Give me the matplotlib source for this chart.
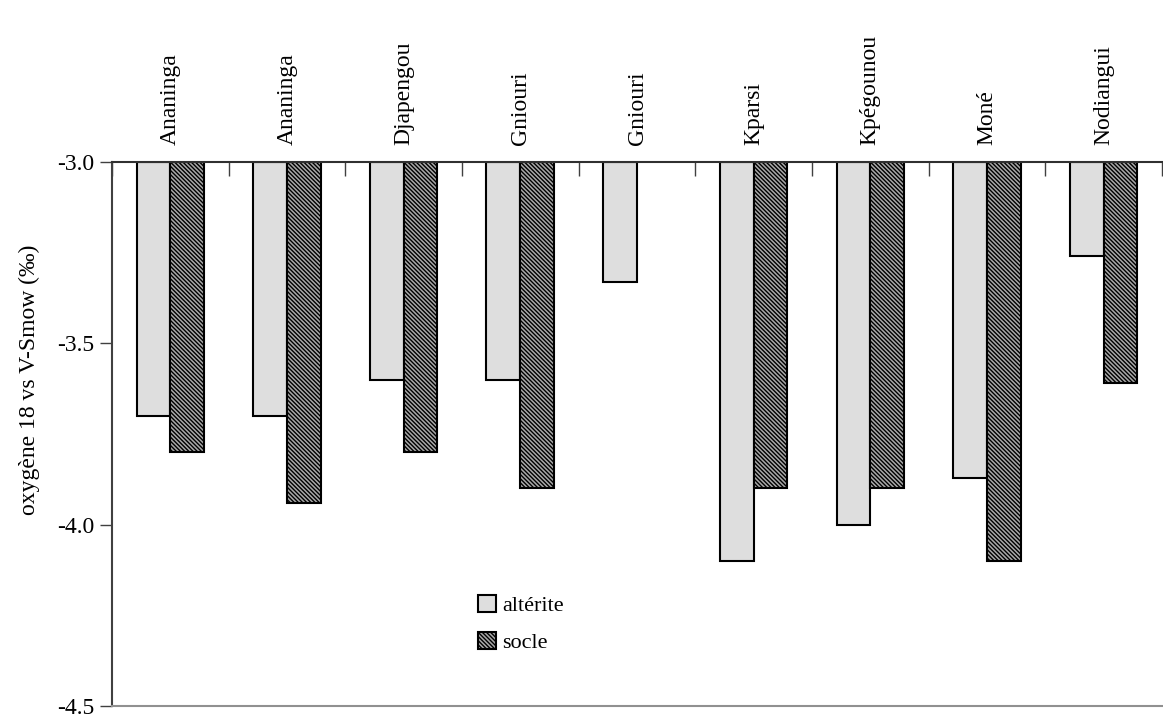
import numpy as np
import matplotlib
matplotlib.use('Agg')
import matplotlib.pyplot as plt

plt.rcParams['font.family'] = ['Liberation Serif', 'DejaVu Serif']
plt.rcParams['axes.unicode_minus'] = False
plt.rcParams['hatch.linewidth'] = 1.0
plt.rcParams['hatch.color'] = '#202020'

sites = ['Ananinga', 'Ananinga', 'Djapengou', 'Gniouri', 'Gniouri',
         'Kparsi', 'Kpégounou', 'Moné', 'Nodiangui']
alterite = [-3.70, -3.70, -3.60, -3.60, -3.33, -4.10, -4.00, -3.87, -3.26]
socle = [-3.80, -3.94, -3.80, -3.90, np.nan, -3.90, -3.90, -4.10, -3.61]
y_ticks = [-3.0, -3.5, -4.0, -4.5]

base = -3.0
x = np.arange(len(sites))
w = 0.29

fig = plt.figure(figsize=(11.63, 7.19), dpi=100)
ax = fig.add_axes([112 / 1163, 1 - 706 / 719, 1050 / 1163, (706 - 162) / 719])

alt_vals = np.array(alterite) - base
soc_vals = np.array(socle) - base
ax.bar(x - w / 2, alt_vals, w, bottom=base, facecolor='#dedede', edgecolor='black',
       linewidth=1.5, label='altérite')
ax.bar(x + w / 2, soc_vals, w, bottom=base, facecolor='#a8a8a8', edgecolor='black',
       linewidth=1.5, hatch='\\\\\\\\\\\\\\\\', label='socle')

ax.set_xlim(-0.5, len(sites) - 0.5)
ax.set_ylim(-4.5, -3.0)
ax.set_yticks(y_ticks)
ax.set_yticklabels(['%.1f' % v for v in y_ticks], fontsize=17)
ax.tick_params(axis='y', direction='out', length=9, width=1, colors='#404040', labelcolor='black', pad=4)
ax.set_ylabel('oxygène 18 vs V-Smow (‰)', fontsize=17)
ax.yaxis.set_label_coords(-0.069, 0.6)

ax.xaxis.tick_top()
ax.set_xticks(np.arange(len(sites) + 1) - 0.5)
ax.set_xticklabels([])
ax.set_xticks(x, minor=True)
ax.set_xticklabels(sites, minor=True, rotation=90, fontsize=17)
ax.tick_params(axis='x', which='major', direction='in', length=10, width=1, colors='#404040')
ax.tick_params(axis='x', which='minor', length=0, pad=12)
for lbl in ax.get_xticklabels(minor=True):
    lbl.set_color('black')

ax.spines['right'].set_visible(False)
ax.spines['top'].set_color('#303030')
ax.spines['top'].set_linewidth(1.5)
ax.spines['left'].set_color('#404040')
ax.spines['left'].set_linewidth(1.5)
ax.spines['bottom'].set_color('#909090')
ax.spines['bottom'].set_linewidth(1.5)

ax.legend(loc='upper left', bbox_to_anchor=(0.34, 0.22), frameon=False, fontsize=16,
          handlelength=0.8, handleheight=0.8, handletextpad=0.3, labelspacing=0.7,
          borderaxespad=0)

fig.savefig('out.png', dpi=100)
